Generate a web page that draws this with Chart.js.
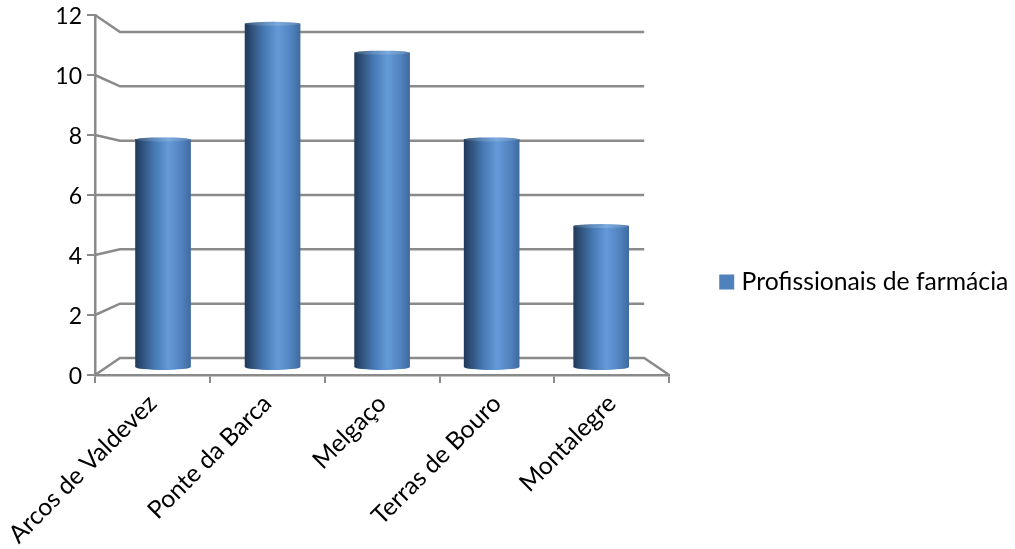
<!DOCTYPE html>
<html>
<head>
<meta charset="utf-8">
<title>Profissionais de farmácia</title>
<script src="https://cdn.jsdelivr.net/npm/chart.js@4"></script>
<style>
    html, body { margin: 0; background: #fff; }
    canvas { display: block; }
</style>
</head>
<body>
<canvas id="chart" width="1015" height="549"></canvas>
<script>
const categories = ['Arcos de Valdevez', 'Ponte da Barca', 'Melgaço', 'Terras de Bouro', 'Montalegre'];
const seriesName = 'Profissionais de farmácia';
const seriesValues = [8, 12, 11, 8, 5];
const yTicks = [0, 2, 4, 6, 8, 10, 12];

const axisColor = '#8a8a8a';
const legendColor = '#4f81bd';
const wallInset = 25;
const barThickness = 55;

// Gradient across one bar, gives the cylinder look
const cylinderFill = (c) => {
    const { chart, dataIndex } = c;
    if (!chart.chartArea) return legendColor;
    const mid = chart.scales.xBars.getPixelForValue(dataIndex);
    const g = chart.ctx.createLinearGradient(mid - barThickness / 2, 0, mid + barThickness / 2, 0);
    g.addColorStop(0, '#1f3a5c');
    g.addColorStop(0.12, '#2f5078');
    g.addColorStop(0.35, '#467aB5');
    g.addColorStop(0.6, '#659ad9');
    g.addColorStop(0.85, '#4f81bd');
    g.addColorStop(1, '#3f6a9e');
    return g;
};

// Back wall and floor, drawn behind the bars
const wallPlugin = {
    id: 'wall',
    beforeDatasetsDraw(chart) {
        const { ctx, chartArea, scales } = chart;
        const left = chartArea.left + wallInset;
        const right = chartArea.right - wallInset;
        ctx.save();
        ctx.strokeStyle = axisColor;
        ctx.lineWidth = 2.5;
        yTicks.forEach(v => {
            ctx.beginPath();
            ctx.moveTo(chartArea.left, scales.y.getPixelForValue(v));
            ctx.lineTo(left, scales.yBack.getPixelForValue(v));
            ctx.lineTo(right, scales.yBack.getPixelForValue(v));
            if (v === 0) ctx.lineTo(chartArea.right, scales.y.getPixelForValue(0));
            ctx.stroke();
        });
        ctx.restore();
    }
};

// Round ends of the cylinders
const capsPlugin = {
    id: 'caps',
    afterDatasetsDraw(chart) {
        const { ctx } = chart;
        ctx.save();
        chart.getDatasetMeta(0).data.forEach(bar => {
            const rx = bar.width / 2;
            ctx.fillStyle = bar.options.backgroundColor;
            ctx.beginPath();
            ctx.ellipse(bar.x, bar.base, rx, 3, 0, 0, Math.PI * 2);
            ctx.fill();
            ctx.beginPath();
            ctx.ellipse(bar.x, bar.y, rx, 2, 0, 0, Math.PI * 2);
            ctx.fill();
            ctx.fillStyle = 'rgba(255, 255, 255, 0.15)';
            ctx.fill();
        });
        ctx.restore();
    }
};

// Axis sizes are fixed, no extra room for overhanging labels
const fixAxis = (s, size) => {
    if (s.isHorizontal()) s.height = size; else s.width = size;
    s.paddingLeft = s.paddingRight = s.paddingTop = s.paddingBottom = 0;
};

new Chart(document.getElementById('chart'), {
    type: 'bar',
    data: {
        labels: categories,
        datasets: [{
            label: seriesName,
            data: categories.map((c, i) => ({ x: i, y: seriesValues[i] })),
            xAxisID: 'xBars',
            yAxisID: 'yBars',
            backgroundColor: cylinderFill,
            barThickness: barThickness,
            base: 0.125,
            borderWidth: 0
        }]
    },
    plugins: [wallPlugin, capsPlugin],
    options: {
        responsive: false,
        animation: false,
        layout: { padding: { top: 15, right: -3.35, left: 0, bottom: 0 } },
        plugins: {
            title: { display: false },
            tooltip: { enabled: false },
            legend: {
                position: 'right',
                maxWidth: 500,
                onClick: null,
                labels: {
                    color: '#000',
                    font: { family: 'Lato', size: 24.7 },
                    usePointStyle: true,
                    boxWidth: 5,
                    boxHeight: 15,
                    padding: 55,
                    generateLabels: () => [{ text: seriesName, fillStyle: legendColor, strokeStyle: legendColor, lineWidth: 0, pointStyle: 'rect', datasetIndex: 0 }]
                }
            }
        },
        scales: {
            x: {
                type: 'category',
                labels: categories,
                offset: true,
                afterFit: s => fixAxis(s, 174),
                border: { color: axisColor, width: 2.5 },
                grid: { offset: true, drawOnChartArea: false, color: axisColor, lineWidth: 2, tickLength: 8 },
                ticks: {
                    color: '#000',
                    font: { family: 'Lato', size: 24.7 },
                    minRotation: 45,
                    maxRotation: 45,
                    autoSkip: false,
                    padding: 6
                }
            },
            y: {
                min: 0,
                max: 12,
                afterFit: s => fixAxis(s, 95),
                border: { color: axisColor, width: 2.5 },
                grid: { drawOnChartArea: false, color: axisColor, lineWidth: 2, tickLength: 8 },
                afterBuildTicks: s => { s.ticks = yTicks.map(v => ({ value: v })); },
                ticks: {
                    color: '#000',
                    font: { family: 'Lato', size: 23 },
                    padding: 5,
                    labelOffset: 1.5
                }
            },
            // planes behind the front axis: same values, squeezed by the 3D depth
            xBars: { type: 'linear', axis: 'x', display: false, offset: false, min: -0.621, max: 4.621 },
            yBars: { type: 'linear', axis: 'y', display: false, min: -0.152, max: 12.305 },
            yBack: { type: 'linear', axis: 'y', display: false, min: -0.626, max: 12.624 }
        }
    }
});
</script>
</body>
</html>
